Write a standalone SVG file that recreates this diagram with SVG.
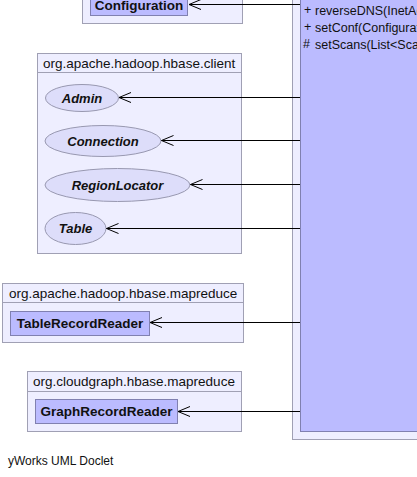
<svg xmlns="http://www.w3.org/2000/svg" width="417" height="477" viewBox="0 0 417 477">
<defs>
<marker id="open" markerWidth="14" markerHeight="12" refX="13" refY="6" orient="auto" markerUnits="userSpaceOnUse" viewBox="0 0 14 12">
<path d="M1,1 L13,6 L1,11" fill="none" stroke="#000" stroke-width="1"/>
</marker>
</defs>
<style>
.pkg{fill:#eeeeff;stroke:#a0a0b4;stroke-width:1}
.cls{fill:#bbbbff;stroke:#8080b0;stroke-width:1}
.ifc{fill:#ddddfa;stroke:#9898b0;stroke-width:1}
.ptxt{font-family:"Liberation Sans",Arial,sans-serif;font-size:13.5px;fill:#111}
.ctxt{font-family:"Liberation Sans",Arial,sans-serif;font-size:13.5px;font-weight:bold;fill:#111}
.itxt{font-family:"Liberation Sans",Arial,sans-serif;font-size:13px;font-weight:bold;font-style:italic;fill:#111}
.mtxt{font-family:"Liberation Sans",Arial,sans-serif;font-size:12.5px;fill:#111}
.foot{font-family:"Liberation Sans",Arial,sans-serif;font-size:12px;fill:#111}
.edge{fill:none;stroke:#000;stroke-width:1;marker-end:url(#open)}
</style>
<rect width="417" height="477" fill="#ffffff"/>

<g id="pkg-mapreduce-cloudgraph-main">
<rect class="pkg" x="292.5" y="-20" width="140" height="459.5"/>
<rect class="cls" x="300.5" y="-20" width="130" height="451.5"/>
<text class="mtxt" x="304" y="14">+</text>
<text class="mtxt" x="315" y="15">reverseDNS(InetAddress)</text>
<text class="mtxt" x="304" y="31">+</text>
<text class="mtxt" x="315" y="32">setConf(Configuration)</text>
<text class="mtxt" x="303" y="48">#</text>
<text class="mtxt" x="315" y="49">setScans(List&lt;Scan&gt;)</text>
</g>

<g id="pkg-conf">
<rect class="pkg" x="82.5" y="-20" width="160" height="43.5"/>
<rect class="cls" x="90.5" y="-10" width="97" height="25.5"/>
<text class="ctxt" x="139" y="9.5" text-anchor="middle">Configuration</text>
</g>

<g id="pkg-client">
<rect class="pkg" x="37.5" y="53.5" width="204" height="200"/>
<line x1="37.5" y1="72.5" x2="241.5" y2="72.5" stroke="#a0a0b4"/>
<text class="ptxt" x="43" y="68">org.apache.hadoop.hbase.client</text>
</g>
<g id="Admin">
<ellipse class="ifc" cx="82" cy="98" rx="36.5" ry="13.5"/>
<text class="itxt" x="82" y="102.5" text-anchor="middle">Admin</text>
</g>
<g id="Connection">
<ellipse class="ifc" cx="103" cy="141" rx="58" ry="15.5"/>
<text class="itxt" x="103" y="145.5" text-anchor="middle">Connection</text>
</g>
<g id="RegionLocator">
<ellipse class="ifc" cx="117.5" cy="185" rx="72.5" ry="16.5"/>
<text class="itxt" x="117.5" y="189.5" text-anchor="middle">RegionLocator</text>
</g>
<g id="Table">
<ellipse class="ifc" cx="75.5" cy="228.5" rx="30.5" ry="16"/>
<text class="itxt" x="75.5" y="233" text-anchor="middle">Table</text>
</g>

<g id="pkg-hbase-mapreduce">
<rect class="pkg" x="2.5" y="283.5" width="241" height="59"/>
<line x1="2.5" y1="302.5" x2="243.5" y2="302.5" stroke="#a0a0b4"/>
<text class="ptxt" x="9" y="298">org.apache.hadoop.hbase.mapreduce</text>
<rect class="cls" x="10.5" y="311.5" width="139" height="24"/>
<text class="ctxt" x="80" y="328" text-anchor="middle">TableRecordReader</text>
</g>

<g id="pkg-cloudgraph-mapreduce">
<rect class="pkg" x="27.5" y="371.5" width="214" height="60"/>
<line x1="27.5" y1="391.5" x2="241.5" y2="391.5" stroke="#a0a0b4"/>
<text class="ptxt" x="33" y="386">org.cloudgraph.hbase.mapreduce</text>
<rect class="cls" x="35.5" y="399.5" width="142" height="24"/>
<text class="ctxt" x="106.5" y="416" text-anchor="middle">GraphRecordReader</text>
</g>

<g id="connectors">
<line class="edge" x1="300" y1="4.5" x2="189" y2="4.5"/>
<line class="edge" x1="300" y1="97.5" x2="119" y2="97.5"/>
<line class="edge" x1="300" y1="140.5" x2="161.5" y2="140.5"/>
<line class="edge" x1="300" y1="184.5" x2="190.5" y2="184.5"/>
<line class="edge" x1="300" y1="228.5" x2="106.5" y2="228.5"/>
<line class="edge" x1="300" y1="322.5" x2="150" y2="322.5"/>
<line class="edge" x1="300" y1="411.5" x2="178" y2="411.5"/>
</g>

<text class="foot" x="8" y="465">yWorks UML Doclet</text>
</svg>
